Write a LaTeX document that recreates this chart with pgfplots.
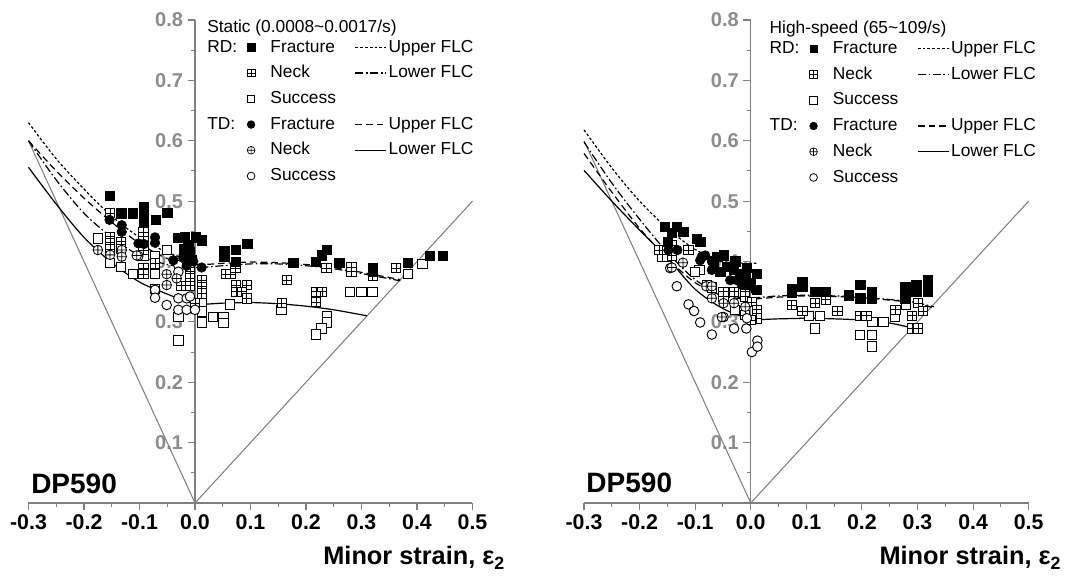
\documentclass[border=0pt]{standalone}
\usepackage{fontspec}
\setmainfont{Liberation Sans}
\usepackage{pgfplots}
\pgfplotsset{compat=1.18}
\definecolor{axgray}{RGB}{128,128,128}
\definecolor{lblgray}{RGB}{140,140,140}
\pgfdeclareplotmark{boxplus}{%
  \pgfpathrectangle{\pgfqpoint{-\pgfplotmarksize}{-\pgfplotmarksize}}{\pgfqpoint{2\pgfplotmarksize}{2\pgfplotmarksize}}%
  \pgfusepathqfillstroke
  \pgfpathmoveto{\pgfqpoint{-\pgfplotmarksize}{0pt}}\pgfpathlineto{\pgfqpoint{\pgfplotmarksize}{0pt}}%
  \pgfpathmoveto{\pgfqpoint{0pt}{-\pgfplotmarksize}}\pgfpathlineto{\pgfqpoint{0pt}{\pgfplotmarksize}}%
  \pgfusepathqstroke}
\tikzset{mkleg/.style={}, lnleg/.style={}}
\pgfplotsset{
  mkleg/.style={legend image code/.code={%
      \pgfpathmoveto{\pgfpointorigin}\pgfpathlineto{\pgfqpoint{19.5pt}{0pt}}\pgfusepath{}%
      \draw[##1, solid] plot[only marks] coordinates {(9pt,0pt)};}},
  lnleg/.style={legend image code/.code={\draw[##1] (0pt,0pt) -- (23pt,0pt);}},
  rdF/.style={forget plot, only marks, mark=square*, mark size=3.5pt, mark options={fill=black, draw=black, line width=0.5pt, solid}},
  rdN/.style={forget plot, only marks, mark=boxplus, mark size=3.5pt, mark options={fill=white, draw=black, line width=0.6pt, solid}},
  rdS/.style={forget plot, only marks, mark=square*, mark size=3.5pt, mark options={fill=white, draw=black, line width=0.7pt, solid}},
  tdF/.style={forget plot, only marks, mark=*, mark size=3.6pt, mark options={fill=black, draw=black, solid}},
  tdN/.style={forget plot, only marks, mark=oplus*, mark size=3.6pt, mark options={fill=white, draw=black, line width=0.6pt, solid}},
  tdS/.style={forget plot, only marks, mark=*, mark size=3.6pt, mark options={fill=white, draw=black, line width=0.7pt, solid}},
  rdU/.style={forget plot, no marks, smooth, black, line width=0.9pt, dash pattern=on 2pt off 1.6pt},
  rdL/.style={forget plot, no marks, smooth, black, line width=0.9pt, dash pattern=on 6pt off 2pt on 1.2pt off 2pt},
  tdU/.style={forget plot, no marks, smooth, black, line width=0.9pt, dash pattern=on 5pt off 3pt},
  tdL/.style={forget plot, no marks, smooth, black, line width=0.9pt},
  panel/.style={
    anchor=south west, scale only axis, width=333pt, height=362.25pt,
    xmin=-0.3, xmax=0.5, ymin=0, ymax=0.8, clip=false,
    axis lines=middle, axis line style={axgray, line width=0.9pt, -},
    xtick={-0.3,-0.2,-0.1,0,0.1,0.2,0.3,0.4,0.5},
    xticklabels={-0.3,-0.2,-0.1,0.0,0.1,0.2,0.3,0.4,0.5},
    minor xtick={-0.25,-0.15,-0.05,0.05,0.15,0.25,0.35,0.45},
    ytick={0.1,0.2,0.3,0.4,0.5,0.6,0.7,0.8},
    yticklabels={0.1,0.2,0.3,0.4,0.5,0.6,0.7,0.8},
    minor ytick={0.05,0.15,0.25,0.35,0.45,0.55,0.65,0.75},
    tick align=outside, major tick length=5.5pt, minor tick length=3pt,
    tick style={axgray, line width=0.8pt},
    xticklabel style={font=\fontsize{16}{18}\selectfont\bfseries, text=black},
    yticklabel style={font=\fontsize{15}{17}\selectfont\bfseries, text=lblgray},
    legend columns=3, legend cell align=left,
    legend style={draw=none, fill=none, inner sep=0pt, row sep=3.3pt, column sep=0pt,
      font=\fontsize{13}{15.5}\selectfont, nodes={inner sep=1.5pt, text height=10pt, text depth=3pt}},
  },
}
\newcommand{\legendset}{%
  \addlegendimage{empty legend}\addlegendentry{RD:\hspace{2pt}}
  \addlegendimage{only marks, mark=square*, mark size=2.8pt, mark options={fill=black, draw=black}, mkleg}\addlegendentry{\hspace{2.5pt}\makebox[61.8pt][l]{Fracture}}
  \addlegendimage{black, line width=0.9pt, dash pattern=on 2pt off 1.6pt, lnleg}\addlegendentry{Upper FLC}
  \addlegendimage{empty legend}\addlegendentry{}
  \addlegendimage{only marks, mark=boxplus, mark size=2.8pt, mark options={fill=white, draw=black, line width=0.5pt}, mkleg}\addlegendentry{\hspace{2.5pt}Neck}
  \addlegendimage{black, line width=0.9pt, dash pattern=on 6pt off 2pt on 1.2pt off 2pt, lnleg}\addlegendentry{Lower FLC}
  \addlegendimage{empty legend}\addlegendentry{}
  \addlegendimage{only marks, mark=square*, mark size=2.8pt, mark options={fill=white, draw=black, line width=0.6pt}, mkleg}\addlegendentry{\hspace{2.5pt}Success}
  \addlegendimage{empty legend}\addlegendentry{}
  \addlegendimage{empty legend}\addlegendentry{TD:}
  \addlegendimage{only marks, mark=*, mark size=2.9pt, mark options={fill=black, draw=black}, mkleg}\addlegendentry{\hspace{2.5pt}Fracture}
  \addlegendimage{black, line width=0.9pt, dash pattern=on 5pt off 3pt, lnleg}\addlegendentry{Upper FLC}
  \addlegendimage{empty legend}\addlegendentry{}
  \addlegendimage{only marks, mark=oplus*, mark size=2.9pt, mark options={fill=white, draw=black, line width=0.5pt}, mkleg}\addlegendentry{\hspace{2.5pt}Neck}
  \addlegendimage{black, line width=0.9pt, lnleg}\addlegendentry{Lower FLC}
  \addlegendimage{empty legend}\addlegendentry{}
  \addlegendimage{only marks, mark=*, mark size=2.9pt, mark options={fill=white, draw=black, line width=0.6pt}, mkleg}\addlegendentry{\hspace{2.5pt}Success}
  \addlegendimage{empty legend}\addlegendentry{}
}
\newcommand{\zerolabel}{%
  \draw[axgray, line width=0.8pt] (axis cs:0,0) -- ++(0pt,-5.5pt);
  \node[anchor=north, yshift=-5.5pt, inner sep=0.333em, font=\fontsize{16}{18}\selectfont\bfseries] at (axis cs:0,0) {0.0};
}
\begin{document}
\begin{tikzpicture}
% ---------------- Left panel: static ----------------
\begin{axis}[panel, at={(21.375pt,55.5pt)},
  legend style={at={(0.3975,0.966)}, anchor=north west}]
\legendset
\addplot[forget plot, axgray, line width=0.8pt] coordinates {(-0.3,0.6) (0,0) (0.5,0.5)};
\addplot[rdU] coordinates {(-0.3,0.63) (-0.25,0.57) (-0.2,0.52) (-0.15,0.475) (-0.1,0.44) (-0.05,0.415) (0,0.40)};
\addplot[rdL] coordinates {(-0.3,0.60) (-0.25,0.535) (-0.2,0.48) (-0.15,0.44) (-0.1,0.41) (-0.05,0.395) (0,0.39) (0.05,0.393) (0.1,0.396) (0.15,0.396) (0.2,0.393) (0.25,0.388) (0.3,0.38) (0.37,0.368)};
\addplot[tdU] coordinates {(-0.3,0.60) (-0.25,0.55) (-0.2,0.505) (-0.15,0.465) (-0.1,0.43) (-0.05,0.405) (0,0.395) (0.05,0.397) (0.1,0.399) (0.15,0.398) (0.2,0.395) (0.25,0.39) (0.3,0.382) (0.37,0.37)};
\addplot[tdL] coordinates {(-0.3,0.556) (-0.25,0.495) (-0.2,0.44) (-0.15,0.398) (-0.1,0.366) (-0.05,0.346) (0,0.33) (0.05,0.331) (0.1,0.332) (0.15,0.33) (0.2,0.326) (0.25,0.32) (0.31,0.31)};
\addplot[rdS] coordinates {(-0.175,0.438) (-0.153,0.398) (-0.133,0.391) (-0.112,0.379) (-0.072,0.409) (-0.072,0.379) (-0.072,0.355) (-0.050,0.419) (-0.030,0.308) (-0.030,0.269) (0.012,0.333) (0.012,0.317) (0.012,0.299) (-0.093,0.410) (0.032,0.308) (0.051,0.308) (0.051,0.298) (0.063,0.329) (0.156,0.320) (0.279,0.350) (0.300,0.350) (0.320,0.350) (0.238,0.310) (0.238,0.299) (0.228,0.289) (0.218,0.279) (0.384,0.379) (0.410,0.396)};
\addplot[rdN] coordinates {(-0.153,0.480) (-0.153,0.441) (-0.153,0.431) (-0.153,0.420) (-0.133,0.433) (-0.133,0.421) (-0.093,0.449) (-0.093,0.441) (-0.093,0.419) (-0.093,0.389) (-0.093,0.379) (-0.072,0.397) (-0.009,0.394) (-0.009,0.383) (-0.009,0.372) (-0.009,0.360) (0.000,0.331) (0.012,0.369) (0.012,0.358) (0.012,0.347) (-0.025,0.360) (0.056,0.379) (0.064,0.379) (0.073,0.389) (0.074,0.361) (0.093,0.361) (0.074,0.350) (0.084,0.350) (0.093,0.339) (0.165,0.369) (0.237,0.389) (0.282,0.391) (0.282,0.383) (0.320,0.377) (0.362,0.389) (0.218,0.350) (0.229,0.350) (0.218,0.342) (0.218,0.333) (0.156,0.331)};
\addplot[tdS] coordinates {(-0.072,0.353) (-0.072,0.340) (-0.051,0.328) (-0.030,0.394) (-0.030,0.383) (-0.030,0.339) (-0.015,0.339) (-0.030,0.320) (-0.015,0.320) (0.000,0.320) (-0.009,0.342)};
\addplot[tdN] coordinates {(-0.175,0.419) (-0.153,0.411) (-0.132,0.419) (-0.132,0.408) (-0.102,0.409) (-0.051,0.379) (-0.051,0.361) (-0.033,0.372) (-0.105,0.410)};
\addplot[rdF] coordinates {(-0.154,0.509) (-0.133,0.480) (-0.112,0.480) (-0.092,0.490) (-0.092,0.476) (-0.092,0.465) (-0.071,0.469) (-0.050,0.481) (-0.030,0.439) (-0.018,0.440) (0.002,0.440) (0.012,0.435) (-0.012,0.427) (-0.009,0.415) (-0.006,0.403) (-0.020,0.420) (0.053,0.418) (0.053,0.408) (0.074,0.419) (0.094,0.429) (0.074,0.399) (0.177,0.398) (0.218,0.399) (0.229,0.410) (0.238,0.419) (0.260,0.398) (0.321,0.390) (0.321,0.383) (0.383,0.398) (0.423,0.409) (0.446,0.409)};
\addplot[tdF] coordinates {(-0.154,0.469) (-0.132,0.460) (-0.132,0.449) (-0.102,0.430) (-0.092,0.429) (-0.072,0.440) (-0.072,0.431) (-0.039,0.402) (-0.021,0.406) (-0.003,0.400) (0.012,0.390) (-0.015,0.393)};
\zerolabel
\node[anchor=base west, inner sep=0pt, font=\fontsize{13}{15.5}\selectfont] at (axis cs:0.0216,0.779) {Static (0.0008\textasciitilde 0.0017/s)};
\node[anchor=base west, inner sep=0pt, font=\fontsize{21}{24}\selectfont\bfseries] at (axis cs:-0.2955,0.015) {DP590};
\node[anchor=base east, inner sep=0pt, font=\fontsize{19}{22}\selectfont\bfseries] at (axis cs:0.559,-0.1026) {Minor strain, ε\textsubscript{2}};
\end{axis}
% ---------------- Right panel: high-speed ----------------
\begin{axis}[panel, at={(438pt,55.5pt)}, width=333.5pt,
  legend style={at={(0.4125,0.963)}, anchor=north west}]
\legendset
\addplot[forget plot, axgray, line width=0.8pt] coordinates {(-0.3,0.6) (0,0) (0.5,0.5)};
\addplot[rdU] coordinates {(-0.3,0.618) (-0.25,0.555) (-0.2,0.50) (-0.15,0.455) (-0.1,0.42) (-0.05,0.40) (0.01,0.397)};
\addplot[rdL] coordinates {(-0.3,0.598) (-0.25,0.53) (-0.2,0.47) (-0.15,0.415) (-0.1,0.37) (-0.05,0.345) (0,0.34) (0.05,0.343) (0.1,0.344) (0.15,0.343) (0.2,0.341) (0.25,0.337) (0.29,0.333) (0.33,0.325)};
\addplot[tdU] coordinates {(-0.3,0.579) (-0.25,0.515) (-0.2,0.455) (-0.15,0.405) (-0.1,0.365) (-0.05,0.343) (0,0.338) (0.05,0.341) (0.1,0.343) (0.15,0.342) (0.2,0.34) (0.25,0.336) (0.29,0.332) (0.33,0.323)};
\addplot[tdL] coordinates {(-0.3,0.551) (-0.25,0.50) (-0.2,0.452) (-0.15,0.406) (-0.1,0.354) (-0.05,0.322) (0,0.305) (0.05,0.305) (0.1,0.306) (0.15,0.305) (0.2,0.303) (0.25,0.298) (0.29,0.29)};
\addplot[rdS] coordinates {(-0.160,0.408) (-0.151,0.408) (-0.092,0.386) (-0.100,0.383) (-0.028,0.320) (0.105,0.310) (0.125,0.310) (0.116,0.289) (0.197,0.278) (0.218,0.278) (0.218,0.259) (0.219,0.300) (0.239,0.300) (0.260,0.308) (0.279,0.328)};
\addplot[rdN] coordinates {(-0.165,0.419) (-0.151,0.419) (-0.142,0.427) (-0.112,0.419) (-0.142,0.410) (-0.079,0.361) (-0.070,0.357) (-0.049,0.350) (-0.049,0.342) (-0.010,0.353) (-0.010,0.342) (0.002,0.333) (0.011,0.320) (0.011,0.306) (-0.010,0.311) (0.000,0.303) (-0.030,0.350) (0.074,0.328) (0.093,0.318) (0.116,0.331) (0.135,0.337) (0.156,0.318) (0.197,0.310) (0.208,0.310) (0.260,0.320) (0.290,0.310) (0.301,0.331) (0.310,0.318) (0.290,0.289) (0.301,0.289)};
\addplot[tdS] coordinates {(-0.133,0.359) (-0.112,0.329) (-0.102,0.318) (-0.091,0.299) (-0.070,0.279) (-0.049,0.308) (-0.030,0.289) (-0.008,0.289) (0.002,0.250) (0.012,0.269) (0.012,0.259) (-0.007,0.306) (-0.145,0.389)};
\addplot[tdN] coordinates {(-0.142,0.390) (-0.122,0.398) (-0.080,0.359) (-0.070,0.359) (-0.070,0.339) (-0.049,0.331) (-0.030,0.331) (-0.052,0.308) (-0.010,0.325)};
\addplot[rdF] coordinates {(-0.154,0.457) (-0.133,0.457) (-0.142,0.447) (-0.121,0.449) (-0.097,0.438) (-0.091,0.433) (-0.149,0.433) (-0.061,0.408) (-0.049,0.410) (-0.028,0.400) (-0.007,0.389) (0.011,0.380) (0.011,0.353) (-0.043,0.391) (-0.031,0.386) (-0.019,0.380) (-0.010,0.372) (-0.001,0.364) (-0.067,0.400) (-0.055,0.383) (0.074,0.355) (0.074,0.348) (0.093,0.366) (0.093,0.358) (0.116,0.350) (0.135,0.350) (0.177,0.344) (0.197,0.361) (0.197,0.339) (0.218,0.350) (0.218,0.339) (0.278,0.358) (0.278,0.347) (0.278,0.339) (0.298,0.361) (0.298,0.350) (0.319,0.369) (0.319,0.358) (0.319,0.350)};
\addplot[tdF] coordinates {(-0.148,0.419) (-0.132,0.419) (-0.082,0.410) (-0.091,0.402) (-0.070,0.400) (-0.037,0.369) (-0.025,0.369) (-0.016,0.361) (0.008,0.353) (-0.070,0.386) (-0.088,0.408)};
\zerolabel
\node[anchor=base west, inner sep=0pt, font=\fontsize{13}{15.5}\selectfont] at (axis cs:0.0335,0.777) {High-speed (65\textasciitilde 109/s)};
\node[anchor=base west, inner sep=0pt, font=\fontsize{21}{24}\selectfont\bfseries] at (axis cs:-0.296,0.0166) {DP590};
\node[anchor=base east, inner sep=0pt, font=\fontsize{19}{22}\selectfont\bfseries] at (axis cs:0.559,-0.1026) {Minor strain, ε\textsubscript{2}};
\end{axis}
\pgfresetboundingbox
\path (0pt,0pt) rectangle (809.25pt,432.75pt);
\end{tikzpicture}
\end{document}
